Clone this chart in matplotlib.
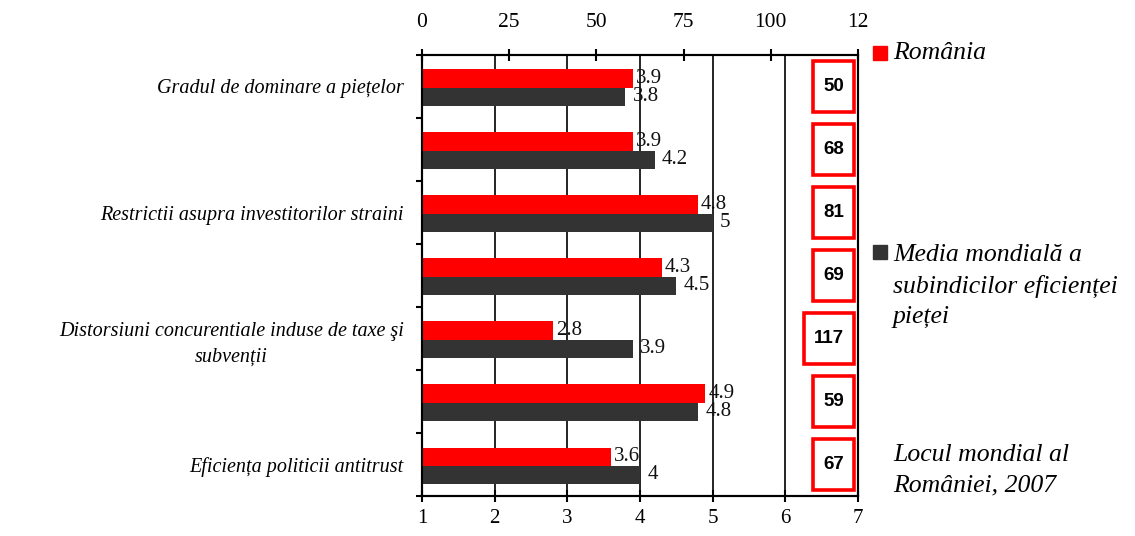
import matplotlib.pyplot as plt
from matplotlib.patches import Rectangle

# === date ===
categories = [
    "Gradul de dominare a piețelor",
    "",
    "Restrictii asupra investitorilor straini",
    "",
    "Distorsiuni concurentiale induse de taxe şi\nsubvenții",
    "",
    "Eficiența politicii antitrust",
]
romania = [3.9, 3.9, 4.8, 4.3, 2.8, 4.9, 3.6]
world = [3.8, 4.2, 5.0, 4.5, 3.9, 4.8, 4.0]
ranks = [50, 68, 81, 69, 117, 59, 67]

bottom_ticks = [1, 2, 3, 4, 5, 6, 7]
top_ticks = [0, 25, 50, 75, 100, 125]
top_labels = ["0", "25", "50", "75", "100", "12"]

legend_ro = "România"
legend_world = "Media mondială a\nsubindicilor eficienței\npieței"
legend_rank = "Locul mondial al\nRomâniei, 2007"

# === culori ===
RED = "#FF0000"
DARK = "#333333"
SERIF = "Liberation Serif"

fig = plt.figure(figsize=(11.35, 5.36), dpi=100)
ax = fig.add_axes([0.3718, 0.0746, 0.3841, 0.8228])

ys = list(range(len(categories)))
bh = 0.29
ax.barh([y - 0.125 for y in ys], [v - 1 for v in romania], left=1,
        height=bh, color=RED, zorder=3)
ax.barh([y + 0.165 for y in ys], [v - 1 for v in world], left=1,
        height=bh, color=DARK, zorder=3)

# etichete valori
for y, v in zip(ys, romania):
    ax.text(v + 0.04, y - 0.125, f"{v:g}", fontsize=15, family=SERIF,
            va='center', ha='left', color='#111111', zorder=4)
for y, v in zip(ys, world):
    ax.text(v + 0.1, y + 0.165, f"{v:g}", fontsize=15, family=SERIF,
            va='center', ha='left', color='#111111', zorder=4)

# locul mondial - casete rosii
for y, r in zip(ys, ranks):
    w = 0.69 if r >= 100 else 0.56
    right = 6.945
    ax.add_patch(Rectangle((right - w, y - 0.41), w, 0.82, facecolor='white',
                           edgecolor=RED, linewidth=2.6, zorder=5))
    ax.text(right - w / 2, y, str(r), fontsize=13.5, family="Liberation Sans",
            weight='bold', ha='center', va='center', zorder=6)

ax.set_xlim(1, 7)
ax.set_ylim(6.5, -0.5)
ax.set_xticks(bottom_ticks)
ax.set_xticklabels([str(t) for t in bottom_ticks], family=SERIF, fontsize=15)
ax.tick_params(axis='x', direction='inout', length=9, width=1.5, pad=5)

ax.set_yticks(ys)
ax.set_yticklabels(categories, family=SERIF, style='italic', fontsize=14.5,
                   multialignment='center', linespacing=1.45)
ax.set_yticks([y - 0.5 for y in ys] + [6.5], minor=True)
ax.tick_params(axis='y', which='major', length=0, pad=13)
ax.tick_params(axis='y', which='minor', direction='out', length=4, width=1.5)

ax.grid(axis='x', color='black', linewidth=1.2, zorder=1)
for s in ax.spines.values():
    s.set_linewidth(1.5)

# axa de sus
ax2 = ax.twiny()
ax2.set_xlim(0, 125)
ax2.set_xticks(top_ticks)
ax2.set_xticklabels(top_labels, family=SERIF, fontsize=15.5)
ax2.tick_params(axis='x', direction='inout', length=9, width=1.5, pad=12)
for s in ax2.spines.values():
    s.set_linewidth(1.5)

# legenda
fig.add_artist(Rectangle((873 / 1135, 1 - 60 / 536), 14 / 1135, 14 / 536,
                         transform=fig.transFigure, color=RED))
fig.text(893 / 1135, 1 - 53 / 536, legend_ro, family=SERIF, style='italic',
         fontsize=18.5, va='center', ha='left')
fig.add_artist(Rectangle((873 / 1135, 1 - 259 / 536), 14 / 1135, 14 / 536,
                         transform=fig.transFigure, color=DARK))
fig.text(893 / 1135, 1 - 286 / 536, legend_world, family=SERIF, style='italic',
         fontsize=18.5, va='center', ha='left', linespacing=1.5)
fig.text(893 / 1135, 1 - 470 / 536, legend_rank, family=SERIF, style='italic',
         fontsize=18.5, va='center', ha='left', linespacing=1.5)

fig.savefig("out.png", dpi=100, facecolor='white')
